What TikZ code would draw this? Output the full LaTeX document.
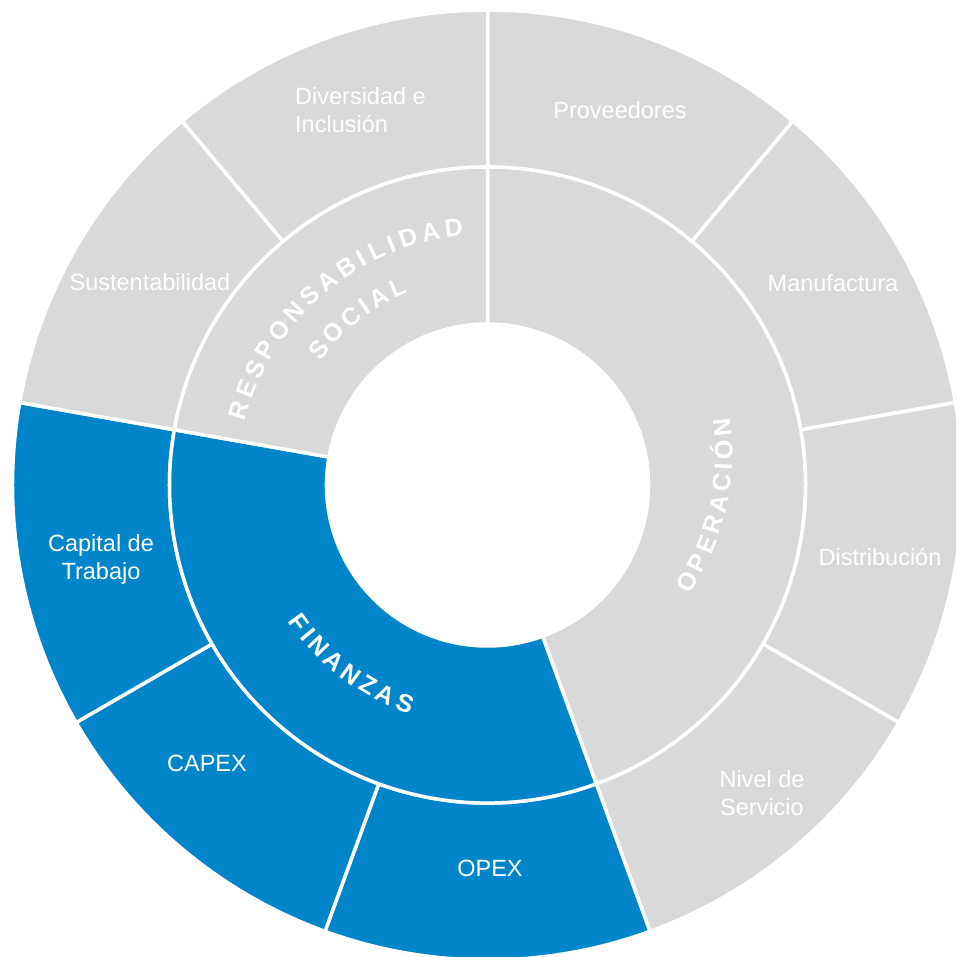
\documentclass[tikz,border=0pt]{standalone}
\usepackage{fontspec}
\setmainfont{Liberation Sans}
\definecolor{segray}{HTML}{D9D9D9}
\definecolor{seblue}{HTML}{0085CA}
\newlength\arcw
\newcommand\arcsize{25}
\newcommand\arcfont{\bfseries\fontsize{\arcsize}{29}\selectfont}
\newcommand\arcmeasure[1]{%
  \pgfinterruptpicture
    \settowidth{\arcw}{\normalfont\arcfont #1}%
    \global\arcw=\arcw
  \endpgfinterruptpicture
}
\tikzset{
  wedge/.style={draw=white, line width=3.5pt, line join=round},
  gwedge/.style={wedge, fill=segray},
  bwedge/.style={wedge, fill=seblue},
  lbl/.style={font=\fontsize{23.5}{28}\selectfont, text=white, inner sep=0pt, anchor=base},
  arcletter/.style={font=\arcfont, text=white, inner sep=0pt, anchor=base}
}
% #1 style, #2 inner radius, #3 outer radius, #4 start angle, #5 end angle
\newcommand\sector[5]{%
  \path[#1] (#4:#2pt) arc[start angle=#4, end angle=#5, radius=#2pt]
    -- (#5:#3pt) arc[start angle=#5, end angle=#4, radius=#3pt] -- cycle;
}
% #1 centre, #2 mid angle, #3 radius of letter centres, #4 dir (1 cw, -1 ccw),
% #5 distance first-to-last letter centre, #6 letters
\newcommand\arcletters[6]{%
  \xdef\arcsum{0}\xdef\arcn{0}%
  \foreach \ch [count=\ci] in {#6}{%
    \arcmeasure{\ch}%
    \pgfmathsetmacro\tmp{\arcsum+\arcw}\xdef\arcsum{\tmp}%
    \xdef\arcn{\ci}%
    \ifnum\ci=1 \xdef\arcwa{\the\arcw}\fi
    \xdef\arcwz{\the\arcw}%
  }%
  \pgfmathsetmacro\tmp{(#5-(\arcsum-\arcwa/2-\arcwz/2))/(\arcn-1)}\xdef\arcsp{\tmp}%
  \pgfmathsetmacro\tmp{-#5/2-\arcwa/2}\xdef\arcpos{\tmp}%
  \begin{scope}[shift={#1}]
  \foreach \ch in {#6}{%
    \arcmeasure{\ch}%
    \pgfmathsetmacro\ang{#2-(#4)*(\arcpos+\arcw/2)/(#3)*180/pi}%
    \pgfmathsetmacro\rb{#3-(#4)*0.358*\arcsize}%
    \pgfmathsetmacro\rot{\ang-(#4)*90}%
    \node[arcletter, rotate=\rot] at (\ang:\rb pt) {\ch};
    \pgfmathsetmacro\tmp{\arcpos+\arcw+\arcsp}\xdef\arcpos{\tmp}%
  }%
  \end{scope}
}
\begin{document}
\begin{tikzpicture}
\useasboundingbox (-487.5pt,-472pt) rectangle (468.5pt,485pt);
\clip (-487.5pt,-472pt) rectangle (468.5pt,485pt);
% outer ring
\sector{gwedge}{318}{475}{50}{90}
\sector{gwedge}{318}{475}{10}{50}
\sector{gwedge}{318}{475}{-30}{10}
\sector{gwedge}{318}{475}{-70}{-30}
\sector{bwedge}{318}{475}{-110}{-70}
\sector{bwedge}{318}{475}{-150}{-110}
\sector{bwedge}{318}{475}{170}{210}
\sector{gwedge}{318}{475}{130}{170}
\sector{gwedge}{318}{475}{90}{130}
% inner ring
\sector{gwedge}{161}{318}{-70}{90}
\sector{bwedge}{161}{318}{170}{290}
\sector{gwedge}{161}{318}{90}{170}
% outer labels
\node[lbl, anchor=base west, align=left] (div) at (-192.5pt,352pt) {Diversidad e\\Inclusión};
\node[lbl] (prov) at (132.5pt,366.5pt) {Proveedores};
\node[lbl] (manu) at (345.5pt,193.3pt) {Manufactura};
\node[lbl] (dist) at (392.5pt,-81pt) {Distribución};
\node[lbl, align=center] (niv) at (274.5pt,-330pt) {Nivel de\\Servicio};
\node[lbl] (opex) at (2.5pt,-391pt) {OPEX};
\node[lbl] (capex) at (-280.5pt,-286pt) {CAPEX};
\node[lbl, align=center] (cap) at (-386.5pt,-95pt) {Capital de\\Trabajo};
\node[lbl] (sust) at (-337.5pt,194pt) {Sustentabilidad};
% inner curved labels
\arcletters{(0pt,0pt)}{130.4}{260}{1}{298.6}{R,E,S,P,O,N,S,A,B,I,L,I,D,A,D}
\arcletters{(0pt,0pt)}{127.8}{217}{1}{102}{S,O,C,I,A,L}
\arcletters{(0pt,0pt)}{232.75}{233}{-1}{134.6}{F,I,N,A,N,Z,A,S}
\arcletters{(-4pt,30.6pt)}{-12.8}{240}{-1}{160.4}{O,P,E,R,A,C,I,Ó,N}
\end{tikzpicture}
\end{document}
